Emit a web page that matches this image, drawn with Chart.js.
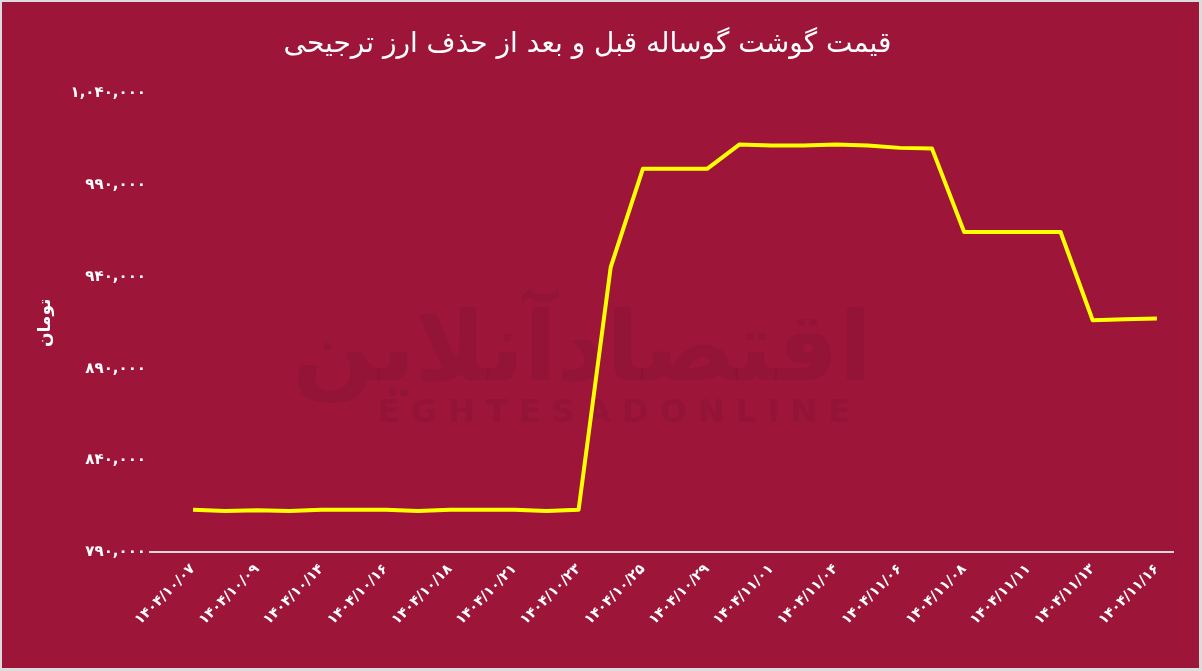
<!DOCTYPE html>
<html lang="fa">
<head>
<meta charset="utf-8">
<title>قیمت گوشت گوساله</title>
<script src="https://cdn.jsdelivr.net/npm/chart.js@4/dist/chart.umd.min.js"></script>
<style>
  html, body { margin: 0; padding: 0; background: #dcdcdc; }
  #wrap { position: absolute; left: 2px; top: 2px; width: 1197px; height: 666px; background: #9d163a; }
</style>
</head>
<body>
<div id="wrap"><canvas id="chart"></canvas></div>
<script>
const dates = [
  '1404/10/07', '1404/10/08', '1404/10/09', '1404/10/10', '1404/10/14', '1404/10/15',
  '1404/10/16', '1404/10/17', '1404/10/18', '1404/10/20', '1404/10/21', '1404/10/22',
  '1404/10/23', '1404/10/24', '1404/10/25', '1404/10/27', '1404/10/29', '1404/10/30',
  '1404/11/01', '1404/11/02', '1404/11/04', '1404/11/05', '1404/11/06', '1404/11/07',
  '1404/11/08', '1404/11/09', '1404/11/11', '1404/11/12', '1404/11/13', '1404/11/14',
  '1404/11/16'
];
const prices = [
  813000, 812300, 812800, 812300, 813000, 813000,
  813000, 812300, 813000, 813000, 813000, 812300,
  813000, 945400, 999000, 999000, 999000, 1012200,
  1011700, 1011700, 1012200, 1011700, 1010400, 1010000,
  964500, 964500, 964500, 964500, 916400, 916900,
  917300
];
const shownDates = [0, 2, 4, 6, 8, 10, 12, 14, 16, 18, 20, 22, 24, 26, 28, 30];
const yTicks = [790000, 840000, 890000, 940000, 990000, 1040000];

const chartTitle = 'قیمت گوشت گوساله قبل و بعد از حذف ارز ترجیحی';
const yTitle = 'تومان';

const faDigits = '۰۱۲۳۴۵۶۷۸۹';
function fa(s){ return String(s).replace(/\d/g, d => faDigits[d]); }

const points = prices.map((p, i) => ({x: i, y: p}));

// faint site logo behind the line
const watermark = {
  id: 'watermark',
  beforeDatasetsDraw(chart){
    const ctx = chart.ctx;
    ctx.save();
    ctx.fillStyle = 'rgba(60,0,20,0.09)';
    ctx.textAlign = 'center';
    ctx.direction = 'rtl';
    ctx.font = 'bold 96px "DejaVu Sans"';
    ctx.fillText('اقتصادآنلاین', 580, 378);
    ctx.direction = 'ltr';
    ctx.font = 'bold 32px "DejaVu Sans"';
    ctx.fillText('E G H T E S A D O N L I N E', 612, 420);
    ctx.restore();
  }
};

const ctx = document.getElementById('chart');
new Chart(ctx, {
  type: 'line',
  data: {
    datasets: [{
      data: points,
      borderColor: '#ffff00',
      borderWidth: 4,
      pointRadius: 0,
      tension: 0,
      borderJoinStyle: 'round',
      fill: false
    }]
  },
  options: {
    responsive: true,
    maintainAspectRatio: false,
    animation: false,
    layout: { padding: { left: 0, right: 26, top: 0, bottom: 0 } },
    plugins: {
      legend: { display: false },
      tooltip: { enabled: false },
      title: {
        display: true,
        text: chartTitle,
        color: '#ffffff',
        font: { family: 'DejaVu Sans', size: 28, weight: 'normal', lineHeight: 1.2 },
        padding: { top: 26, bottom: 32 }
      }
    },
    scales: {
      x: {
        type: 'linear',
        min: -1.34,
        max: 30.5,
        grid: { display: false, drawTicks: false },
        border: { display: true, color: '#d8d8d8', width: 2 },
        afterBuildTicks: (scale) => { scale.ticks = shownDates.map(v => ({value: v})); },
        afterFit: (scale) => { scale.height = 116; },
        ticks: {
          autoSkip: false,
          minRotation: 45,
          maxRotation: 45,
          padding: 9,
          color: '#ffffff',
          font: { family: 'DejaVu Sans', size: 14, weight: 'bold' },
          callback: (v) => fa(dates[v])
        }
      },
      y: {
        min: 790000,
        max: 1040000,
        grid: { display: false, drawTicks: false },
        border: { display: false },
        afterBuildTicks: (scale) => { scale.ticks = yTicks.map(v => ({value: v})); },
        afterFit: (scale) => { scale.width = 148; },
        title: {
          display: true,
          text: yTitle,
          color: '#ffffff',
          font: { family: 'DejaVu Sans', size: 17, weight: 'bold' },
          padding: { top: 33, bottom: 0 }
        },
        ticks: {
          padding: 4,
          color: '#ffffff',
          font: { family: 'DejaVu Sans', size: 15, weight: 'bold' },
          callback: (v) => fa(v.toLocaleString('en-US'))
        }
      }
    }
  },
  plugins: [watermark]
});
</script>
</body>
</html>
